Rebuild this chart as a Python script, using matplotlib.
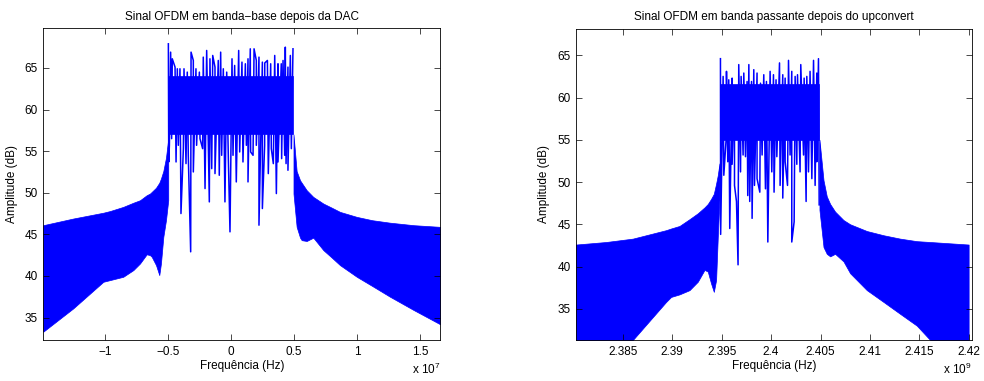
"""
OFDM spectra before/after upconversion, redrawn from a MATLAB figure.
Two panels: baseband after the DAC, passband after the upconverter.
"""

import numpy as np
import matplotlib
matplotlib.use("Agg")
import matplotlib.pyplot as plt

plt.rcParams["font.family"] = ["Liberation Sans", "DejaVu Sans"]
plt.rcParams["mathtext.default"] = "regular"
plt.rcParams["axes.unicode_minus"] = True

BLUE = "#0000ff"

# ── baseband panel (frequency in units of 1e7 Hz) ─────────────────────────────
bb_left_f = [-1.490, -1.252, -1.013, -0.960, -0.855, -0.775, -0.722, -0.669,
             -0.643, -0.629, -0.595, -0.569, -0.556, -0.537, -0.516, -0.498]
bb_left_up = [46.1, 46.9, 47.6, 47.8, 48.3, 48.8, 49.1, 49.7,
              49.9, 50.1, 50.6, 51.2, 51.7, 52.6, 54.2, 56.5]
bb_left_lo = [33.3, 36.1, 39.3, 39.5, 39.9, 40.7, 41.5, 42.6,
              42.5, 42.3, 41.3, 40.1, 41.5, 44.7, 46.7, 49.1]

bb_right_f = [0.496, 0.521, 0.548, 0.561, 0.601, 0.653, 0.733, 0.800,
              0.865, 0.998, 1.120, 1.262, 1.450, 1.659]
bb_right_up = [57.0, 52.6, 51.5, 51.2, 50.3, 49.5, 48.7, 48.2,
               47.7, 47.1, 46.7, 46.4, 46.1, 45.9]
bb_right_lo = [49.9, 45.9, 44.6, 44.3, 44.2, 44.6, 43.1, 42.2,
               41.3, 39.9, 38.8, 37.5, 35.9, 34.2]

bb_core_f = [-0.497, 0.496]
bb_core_up = [64.0, 64.0]
bb_core_lo = [57.0, 57.0]

bb_peak_f = [-0.497, -0.479, -0.466, -0.444, -0.426, -0.405, -0.373, -0.347,
             -0.317, -0.299, -0.278, -0.251, -0.220, -0.193, -0.167, -0.145,
             -0.127, -0.101, -0.082, -0.061, -0.034, 0.008, 0.029, 0.061,
             0.087, 0.114, 0.135, 0.153, 0.183, 0.201, 0.222, 0.249, 0.268,
             0.289, 0.315, 0.347, 0.373, 0.399, 0.413, 0.431, 0.452, 0.471,
             0.492]
bb_peak_db = [67.9, 66.9, 66.1, 65.1, 64.9, 64.9, 64.9, 64.5,
              66.9, 65.9, 64.9, 64.5, 66.3, 67.1, 66.1, 66.5,
              65.1, 65.9, 66.9, 64.9, 64.5, 66.1, 65.3, 67.1,
              65.7, 65.5, 66.1, 67.3, 67.3, 65.9, 66.3, 65.7, 65.6,
              65.9, 65.5, 66.5, 65.5, 65.5, 65.9, 67.5, 65.1, 66.5,
              67.3]

bb_dip_f = [-0.494, -0.489, -0.471, -0.436, -0.418, -0.397, -0.378, -0.357,
            -0.339, -0.320, -0.299, -0.273, -0.246, -0.225, -0.206, -0.172,
            -0.153, -0.127, -0.093, -0.074, -0.048, -0.021, -0.008, 0.016,
            0.042, 0.069, 0.095, 0.122, 0.135, 0.156, 0.175, 0.201, 0.222,
            0.249, 0.267, 0.296, 0.320, 0.336, 0.360, 0.373, 0.402, 0.426,
            0.437, 0.452, 0.479]
bb_dip_db = [53.7, 55.7, 56.5, 53.7, 55.7, 47.5, 55.3, 53.5,
             54.5, 42.9, 52.5, 55.7, 56.5, 55.3, 50.5, 48.9,
             52.9, 52.3, 52.1, 54.5, 48.9, 54.1, 45.3, 54.5,
             51.3, 54.9, 53.7, 55.7, 51.3, 54.9, 54.5, 55.7, 46.1,
             48.1, 55.7, 52.3, 55.3, 53.5, 49.9, 53.7, 54.1, 54.5,
             53.5, 52.7, 55.3]

# ── passband panel (frequency in units of 1e9 Hz) ─────────────────────────────
pb_left_f = [2.38028, 2.38332, 2.38602, 2.38938, 2.38989, 2.39074, 2.39175,
             2.39259, 2.39327, 2.39360, 2.39393, 2.39421, 2.39444, 2.39461,
             2.39478]
pb_left_up = [42.6, 42.9, 43.3, 44.3, 44.5, 44.8, 45.6,
              46.3, 47.0, 47.4, 48.0, 48.6, 49.8, 50.8,
              52.2]
pb_left_lo = [23.5, 27.6, 31.3, 35.8, 36.4, 36.7, 37.2,
              38.2, 39.6, 39.4, 38.0, 37.0, 38.4, 43.5,
              47.9]

pb_right_f = [2.40489, 2.40530, 2.40563, 2.40597, 2.40647, 2.40732, 2.40799,
              2.40968, 2.41137, 2.41304, 2.41473, 2.41608, 2.41997]
pb_right_up = [55.0, 50.2, 48.3, 47.4, 46.5, 45.5, 45.0,
               44.2, 43.7, 43.3, 43.0, 42.9, 42.6]
pb_right_lo = [46.7, 42.3, 41.5, 41.2, 41.5, 40.6, 39.2,
               37.2, 35.8, 34.4, 33.0, 31.3, 28.0]

pb_core_f = [2.39480, 2.40489]
pb_core_up = [61.6, 61.6]
pb_core_lo = [55.0, 55.0]

pb_peak_f = [2.39488, 2.39515, 2.39549, 2.39572, 2.39606, 2.39630, 2.39673,
             2.39697, 2.39724, 2.39757, 2.39775, 2.39802, 2.39825, 2.39858,
             2.39893, 2.39926, 2.39953, 2.39990, 2.40024, 2.40050, 2.40085,
             2.40118, 2.40142, 2.40176, 2.40209, 2.40243, 2.40267, 2.40300,
             2.40334, 2.40361, 2.40394, 2.40429, 2.40462, 2.40479]
pb_peak_db = [64.6, 62.5, 63.1, 62.1, 62.3, 61.1, 63.9,
              62.5, 62.9, 61.9, 63.9, 61.9, 63.3, 62.9,
              61.7, 62.7, 61.9, 63.1, 62.7, 62.1, 64.1,
              62.7, 62.3, 64.4, 63.1, 62.5, 62.7, 63.9,
              62.3, 62.5, 63.1, 64.4, 62.9, 64.6]

pb_dip_f = [2.39490, 2.39522, 2.39545, 2.39562, 2.39582, 2.39606, 2.39630,
            2.39650, 2.39666, 2.39691, 2.39717, 2.39741, 2.39764, 2.39784,
            2.39808, 2.39832, 2.39858, 2.39886, 2.39909, 2.39943, 2.39967,
            2.40007, 2.40030, 2.40058, 2.40091, 2.40118, 2.40142, 2.40166,
            2.40192, 2.40209, 2.40233, 2.40260, 2.40293, 2.40328, 2.40354,
            2.40378, 2.40412, 2.40445, 2.40462, 2.40486]
pb_dip_db = [43.8, 50.8, 55.0, 52.4, 44.5, 52.1, 49.6,
             47.7, 40.2, 51.2, 53.2, 53.0, 48.4, 47.7,
             45.7, 49.6, 50.4, 48.8, 53.2, 49.2, 42.9,
             51.2, 48.8, 53.0, 49.6, 48.1, 52.4, 49.6,
             53.2, 42.9, 45.3, 52.1, 51.2, 53.2, 47.7,
             51.2, 50.4, 49.6, 52.4, 47.3]


# ── drawing helpers ───────────────────────────────────────────────────────────

def draw_spectrum(ax, sides, core, peaks, dips):
    """Sidelobe envelopes and in-band core as fills, spikes as a zigzag line."""
    for f, up, lo in sides:
        ax.fill_between(f, lo, up, color=BLUE, linewidth=0.5, edgecolor=BLUE)
    cf, cup, clo = core
    ax.fill_between(cf, clo, cup, color=BLUE, linewidth=0.5, edgecolor=BLUE)

    f = np.concatenate([peaks[0], dips[0]])
    db = np.concatenate([peaks[1], dips[1]])
    order = np.argsort(f, kind="stable")
    ax.plot(f[order], db[order], color=BLUE, linewidth=1.1)


def style_axes(ax, title, exponent):
    ax.set_title(title, fontsize=8.5, pad=6)
    ax.set_xlabel("Frequência (Hz)", fontsize=8.5, labelpad=2)
    ax.set_ylabel("Amplitude (dB)", fontsize=8.5, labelpad=5)
    ax.tick_params(direction="in", length=4, width=0.5, labelsize=8.5,
                   top=True, right=True, pad=4)
    for sp in ax.spines.values():
        sp.set_linewidth(0.6)
    ax.text(1.0, -0.108, rf"x 10$^{{{exponent}}}$", transform=ax.transAxes,
            ha="right", va="baseline", fontsize=8.5)


fig = plt.figure(figsize=(9.84, 3.81), dpi=100)
ax1 = fig.add_axes([0.0442, 0.1076, 0.4030, 0.8189])
ax2 = fig.add_axes([0.5854, 0.1076, 0.4024, 0.8171])

draw_spectrum(
    ax1,
    [(bb_left_f, bb_left_up, bb_left_lo), (bb_right_f, bb_right_up, bb_right_lo)],
    (bb_core_f, bb_core_up, bb_core_lo),
    (bb_peak_f, bb_peak_db),
    (bb_dip_f, bb_dip_db),
)
ax1.set_xlim(-1.488, 1.659)
ax1.set_ylim(32.3, 69.8)
ax1.set_xticks([-1, -0.5, 0, 0.5, 1, 1.5])
ax1.set_xticklabels(["\u22121", "\u22120.5", "0", "0.5", "1", "1.5"])
ax1.set_yticks([35, 40, 45, 50, 55, 60, 65])
style_axes(ax1, "Sinal OFDM em banda\u2212base depois da DAC", 7)

draw_spectrum(
    ax2,
    [(pb_left_f, pb_left_up, pb_left_lo), (pb_right_f, pb_right_up, pb_right_lo)],
    (pb_core_f, pb_core_up, pb_core_lo),
    (pb_peak_f, pb_peak_db),
    (pb_dip_f, pb_dip_db),
)
ax2.set_xlim(2.38028, 2.42031)
ax2.set_ylim(31.3, 68.15)
ax2.set_xticks([2.385, 2.39, 2.395, 2.4, 2.405, 2.41, 2.415, 2.42])
ax2.set_xticklabels(["2.385", "2.39", "2.395", "2.4", "2.405", "2.41",
                     "2.415", "2.42"])
ax2.set_yticks([35, 40, 45, 50, 55, 60, 65])
style_axes(ax2, "Sinal OFDM em banda passante depois do upconvert", 9)

fig.savefig("out.png", dpi=100)
